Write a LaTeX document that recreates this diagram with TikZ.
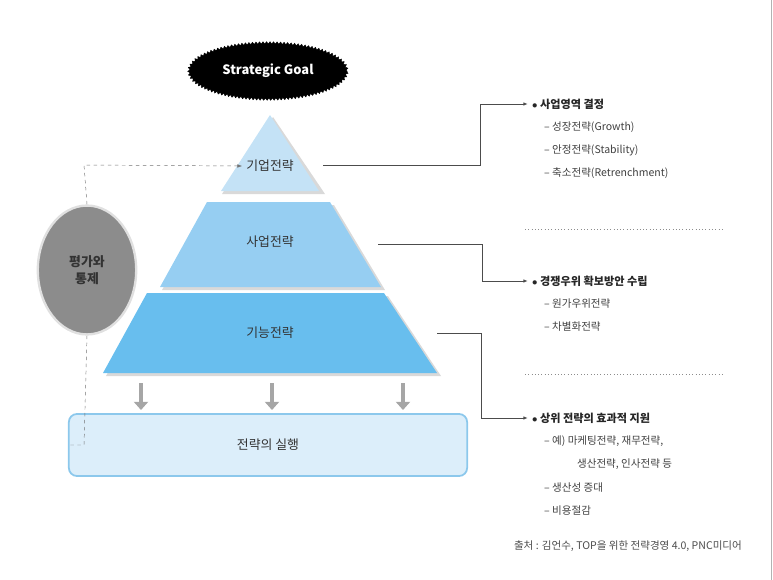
\documentclass[tikz,border=0pt]{standalone}
\usepackage{fontspec}
\setmainfont{Noto Sans CJK KR}
\usetikzlibrary{arrows.meta}
\usetikzlibrary{shapes.misc}
\usetikzlibrary{shapes.geometric}
\usetikzlibrary{decorations.pathmorphing}

\definecolor{tierA}{RGB}{196,226,246}
\definecolor{tierB}{RGB}{150,206,242}
\definecolor{tierC}{RGB}{104,190,238}
\definecolor{boxfill}{RGB}{220,238,250}
\definecolor{boxline}{RGB}{140,200,236}

\tikzset{
    tierlabel/.style={font=\fontsize{11}{13}\selectfont, text=black!80},
    headline/.style={anchor=west, font=\bfseries\fontsize{9.5}{11}\selectfont, text=black!85},
    subline/.style={anchor=west, font=\fontsize{9}{11}\selectfont, text=black!75},
    link/.style={black!70, thick, -{Latex[length=4pt]}},
    downarrow/.style={black!35, line width=3pt, -{Triangle[length=7pt,width=12pt]}}
}

\begin{document}
\begin{tikzpicture}[x=0.03cm, y=-0.03cm]
    \useasboundingbox (0,0) rectangle (773,580);
    \draw[black!30] (771,0) -- (771,580);

    % goal
    \node[ellipse, fill=black, draw=black, minimum width=135, minimum height=48,
          decorate, decoration={zigzag, segment length=3pt, amplitude=1pt},
          text=white, font=\bfseries\fontsize{11}{13}\selectfont] (goal) at (268,71) {Strategic Goal};

    % pyramid
    \fill[black!15] (273,117) -- (325,194) -- (222,194) -- cycle;
    \fill[tierA] (270,115) -- (319,191) -- (221,191) -- cycle;
    \fill[black!15] (211,205) -- (334,205) -- (385,290) -- (162,290) -- cycle;
    \fill[tierB] (207,202) -- (330,202) -- (381,287) -- (160,287) -- cycle;
    \fill[black!15] (150,296) -- (388,296) -- (441,376) -- (106,376) -- cycle;
    \fill[tierC] (147,293) -- (384,293) -- (437,373) -- (103,373) -- cycle;
    \node[tierlabel] (corp) at (270,166) {기업전략};
    \node[tierlabel] (biz) at (270,242) {사업전략};
    \node[tierlabel] (func) at (270,333) {기능전략};
    \coordinate (corpR) at (323,165);
    \coordinate (bizR) at (378,244);
    \coordinate (funcR) at (437,333);

    % execution
    \node[draw=boxline, line width=1.5pt, fill=boxfill, rounded corners=7pt,
          minimum width=340, minimum height=53, tierlabel] (exec) at (268,445) {전략의 실행};
    \foreach \x in {141,272,403}
        \draw[downarrow] (\x,383) -- (\x,410);

    % control
    \node[ellipse, fill=black!45, draw=black!12, line width=2pt, minimum width=84, minimum height=110,
          align=center, font=\bfseries\fontsize{11}{14}\selectfont, text=black!80] (ctrl) at (87,270) {평가와\\통제};
    \draw[black!55, dashed, -{Latex[length=4pt]}] (ctrl.north) -- (84,165) -- (corp.west);
    \draw[black!55, dashed] (ctrl.south) -- (84,445) -- (exec.west);

    % right side
    \node[headline] (h1) at (528,104) {$\bullet$\ 사업영역 결정};
    \node[subline] (s11) at (540,127) {– 성장전략(Growth)};
    \node[subline] (s12) at (540,150) {– 안정전략(Stability)};
    \node[subline] (s13) at (540,173) {– 축소전략(Retrenchment)};
    \draw[link] (corpR) -- (480,165) -- (480,104) -- (h1.west);

    \draw[black!45, dotted, thick] (525,229) -- (722,229);

    \node[headline] (h2) at (528,281) {$\bullet$\ 경쟁우위 확보방안 수립};
    \node[subline] (s21) at (540,304) {– 원가우위전략};
    \node[subline] (s22) at (540,327) {– 차별화전략};
    \draw[link] (bizR) -- (482,244) -- (482,281) -- (h2.west);

    \draw[black!45, dotted, thick] (525,374) -- (722,374);

    \node[headline] (h3) at (528,418) {$\bullet$\ 상위 전략의 효과적 지원};
    \node[subline] (s31) at (540,441) {– 예) 마케팅전략, 재무전략,};
    \node[subline] (s32) at (573,464) {생산전략, 인사전략 등};
    \node[subline] (s33) at (540,488) {– 생산성 증대};
    \node[subline] (s34) at (540,511) {– 비용절감};
    \draw[link] (funcR) -- (481,333) -- (481,418) -- (h3.west);

    \node[anchor=east, font=\fontsize{9}{11}\selectfont, text=black!70] (src) at (746,546)
        {출처 : 김언수, TOP을 위한 전략경영 4.0, PNC미디어};
\end{tikzpicture}
\end{document}
